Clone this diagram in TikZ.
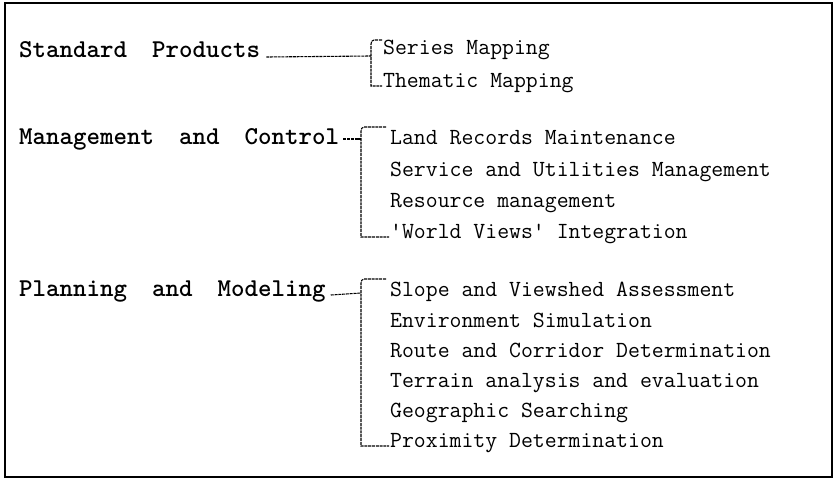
\documentclass[tikz,border=0pt]{standalone}
\usetikzlibrary{calc}

\newcommand{\gap}{\hspace{25pt}}
\tikzset{
  grp/.style={anchor=base west, inner sep=0pt, font=\fontsize{25.7}{30}\ttfamily\bfseries},
  itm/.style={anchor=base west, inner sep=0pt, font=\fontsize{23.1}{26}\ttfamily},
  brk/.style={black, line width=1.1pt, dash pattern=on 3pt off 0.8pt},
}

\begin{document}
\begin{tikzpicture}[x=1pt, y=-1pt]
    \useasboundingbox (0,0) rectangle (836,479);
    \draw[line width=2pt] (5,3) rectangle (832,477);

    % group labels
    \node[grp] (std) at (19,57) {Standard\gap Products};
    \node[grp] (man) at (19,144) {Management\gap and\gap Control};
    \node[grp] (pla) at (19,296) {Planning\gap and\gap Modeling};

    % items
    \node[itm] (s1) at (383,54) {Series Mapping};
    \node[itm] (s2) at (383,87) {Thematic Mapping};

    \node[itm] (m1) at (390,144) {Land Records Maintenance};
    \node[itm] (m2) at (390,176) {Service and Utilities Management};
    \node[itm] (m3) at (390,207) {Resource management};
    \node[itm] (m4) at (390,238) {\textquotesingle World Views\textquotesingle{} Integration};

    \node[itm] (p1) at (390,296) {Slope and Viewshed Assessment};
    \node[itm] (p2) at (390,327) {Environment Simulation};
    \node[itm] (p3) at (390,357) {Route and Corridor Determination};
    \node[itm] (p4) at (390,387) {Terrain analysis and evaluation};
    \node[itm] (p5) at (390,417) {Geographic Searching};
    \node[itm] (p6) at (390,447) {Proximity Determination};

    % where each label meets its bracket
    \coordinate (b1) at (371,56);
    \coordinate (b2) at (361,139);
    \coordinate (b3) at (361,293);

    % connectors
    \draw[brk] ($(std.base east)+(6,0)$) -- (b1);
    \draw[brk] ($(man.base east)+(4,-5)$) -- ++(8,0) -- (b2);
    \draw[brk] ($(pla.base east)+(5,-1)$) -- (b3);

    % brackets
    \draw[brk] ($(s1.base west)+(-1,-14)$) -- ($(b1 |- s1.base)+(3,-14)$)
        to[out=180,in=90] ($(b1 |- s1.base)+(0,-10)$)
        -- ($(b1 |- s2.base)+(0,-1)$) -- ($(s2.base west)+(-1,-1)$);
    \draw[brk] ($(m1.base west)+(-4,-17)$) -- ($(b2 |- m1.base)+(3,-17)$)
        to[out=180,in=90] ($(b2 |- m1.base)+(0,-13)$)
        -- ($(b2 |- m4.base)+(0,-1)$) -- ($(m4.base west)+(-1,-1)$);
    \draw[brk] ($(p1.base west)+(-4,-17)$) -- ($(b3 |- p1.base)+(3,-17)$)
        to[out=180,in=90] ($(b3 |- p1.base)+(0,-13)$)
        -- ($(b3 |- p6.base)+(0,-1)$) -- ($(p6.base west)+(-1,-1)$);
\end{tikzpicture}
\end{document}
